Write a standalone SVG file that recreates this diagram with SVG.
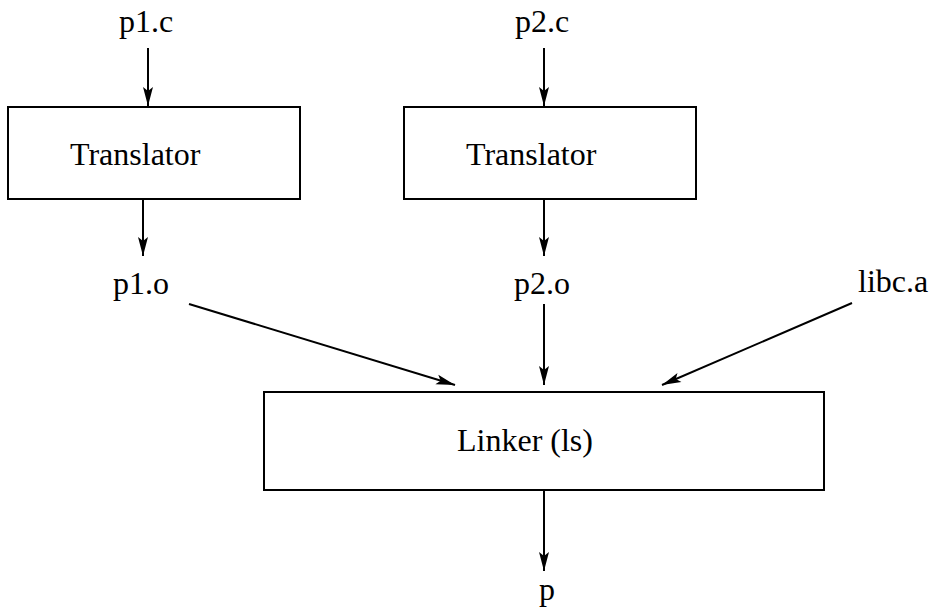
<svg xmlns="http://www.w3.org/2000/svg" width="932" height="608" viewBox="0 0 932 608">
<style>
text{font-family:"Liberation Serif","Times New Roman",serif;font-size:32px;fill:#000}
.box{fill:#fff;stroke:#000;stroke-width:2}
.edge{stroke:#000;stroke-width:2;fill:none;marker-end:url(#ah)}
</style>
<defs>
<marker id="ah" markerUnits="userSpaceOnUse" viewBox="-20 -6 22 12" refX="0" refY="0" markerWidth="22" markerHeight="12" orient="auto">
<path d="M0,0 L-19,-5 L-15,0 L-19,5 Z" fill="#000"/>
</marker>
</defs>
<rect width="932" height="608" fill="#fff"/>
<g id="connectors">
<line class="edge" x1="148" y1="48" x2="148" y2="106"/>
<line class="edge" x1="544" y1="48" x2="544" y2="106"/>
<line class="edge" x1="143" y1="199" x2="143" y2="256"/>
<line class="edge" x1="544" y1="199" x2="544" y2="256"/>
<line class="edge" x1="189" y1="304" x2="455" y2="385"/>
<line class="edge" x1="544" y1="304" x2="544" y2="385"/>
<line class="edge" x1="852" y1="303" x2="662" y2="385"/>
<line class="edge" x1="544" y1="490" x2="544" y2="571"/>
</g>
<g id="p1c"><text x="119" y="32">p1.c</text></g>
<g id="p2c"><text x="515" y="32">p2.c</text></g>
<g id="translator1"><rect class="box" x="8" y="107" width="292" height="92"/><text x="70" y="165">Translator</text></g>
<g id="translator2"><rect class="box" x="404" y="107" width="292" height="92"/><text x="466" y="165">Translator</text></g>
<g id="p1o"><text x="113" y="294">p1.o</text></g>
<g id="p2o"><text x="514" y="294">p2.o</text></g>
<g id="libca"><text x="858" y="292">libc.a</text></g>
<g id="linker"><rect class="box" x="264" y="392" width="560" height="98"/><text x="457" y="451">Linker (ls)</text></g>
<g id="p"><text x="539" y="600">p</text></g>
</svg>
